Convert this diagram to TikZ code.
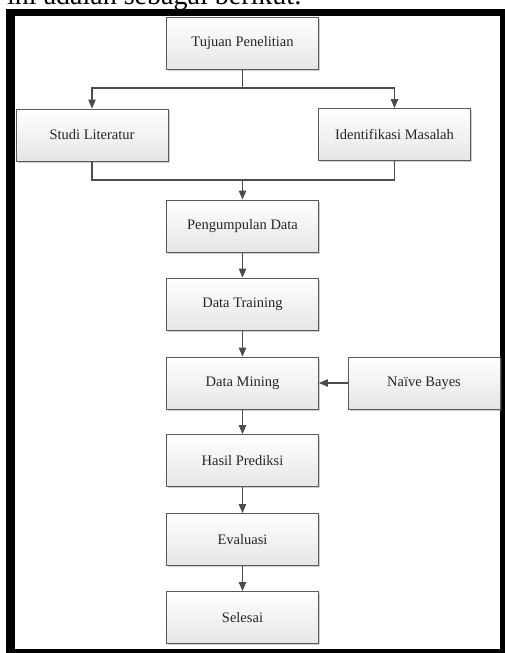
\documentclass[tikz,border=0pt]{standalone}
\usepackage{fontspec}
\setmainfont{Liberation Serif}
\usetikzlibrary{arrows.meta,shadows}
\begin{document}
\begin{tikzpicture}[x=1pt,y=-1pt,
  box/.style={draw=black!65, line width=0.9pt, top color=white, bottom color=black!10,
    minimum width=152pt, minimum height=52pt, inner sep=0pt,
    font=\fontsize{14.5}{16}\selectfont, text=black!85,
    drop shadow={shadow xshift=1.6pt, shadow yshift=-1.6pt, opacity=0.3, fill=black!60}},
  conn/.style={draw=black!70, line width=1.1pt},
  arr/.style={conn, -{Triangle[length=9pt,width=7.5pt]}}
]
\useasboundingbox (0,0) rectangle (505,653);
\clip (0,0) rectangle (505,653);
% intro text (cut off at the top)
\node[anchor=base west, inner sep=0pt, font=\fontsize{28}{30}\selectfont] (intro) at (7,4.5) {ini adalah sebagai berikut:};
% frame
\fill[black] (6,9) rectangle (510,660);
\fill[white] (15,16) rectangle (500,649);
% boxes
\node[box] (tujuan) at (242.5,43.5) {Tujuan Penelitian};
\node[box] (studi) at (92,135) {Studi Literatur};
\node[box] (ident) at (394.5,134.5) {Identifikasi Masalah};
\node[box] (kumpul) at (242.5,226) {Pengumpulan Data};
\node[box] (train) at (242.5,304) {Data Training};
\node[box] (mining) at (242.5,383) {Data Mining};
\node[box] (naive) at (424,383) {Naïve Bayes};
\node[box] (hasil) at (242.5,460.5) {Hasil Prediksi};
\node[box] (eval) at (242.5,539.5) {Evaluasi};
\node[box] (selesai) at (242.5,617.5) {Selesai};
% connectors
\coordinate (split) at (242.5,88);
\coordinate (merge) at (242.5,180);
\draw[conn] (tujuan.south) -- (split);
\draw[arr] (split) -| (studi.north);
\draw[arr] (split) -| (ident.north);
\draw[conn] (ident.south) |- (merge);
\draw[arr] (studi.south) |- (merge) -- (kumpul.north);
\draw[arr] (kumpul) -- (train);
\draw[arr] (train) -- (mining);
\draw[arr] (naive) -- (mining);
\draw[arr] (mining) -- (hasil);
\draw[arr] (hasil) -- (eval);
\draw[arr] (eval) -- (selesai);
\end{tikzpicture}
\end{document}
